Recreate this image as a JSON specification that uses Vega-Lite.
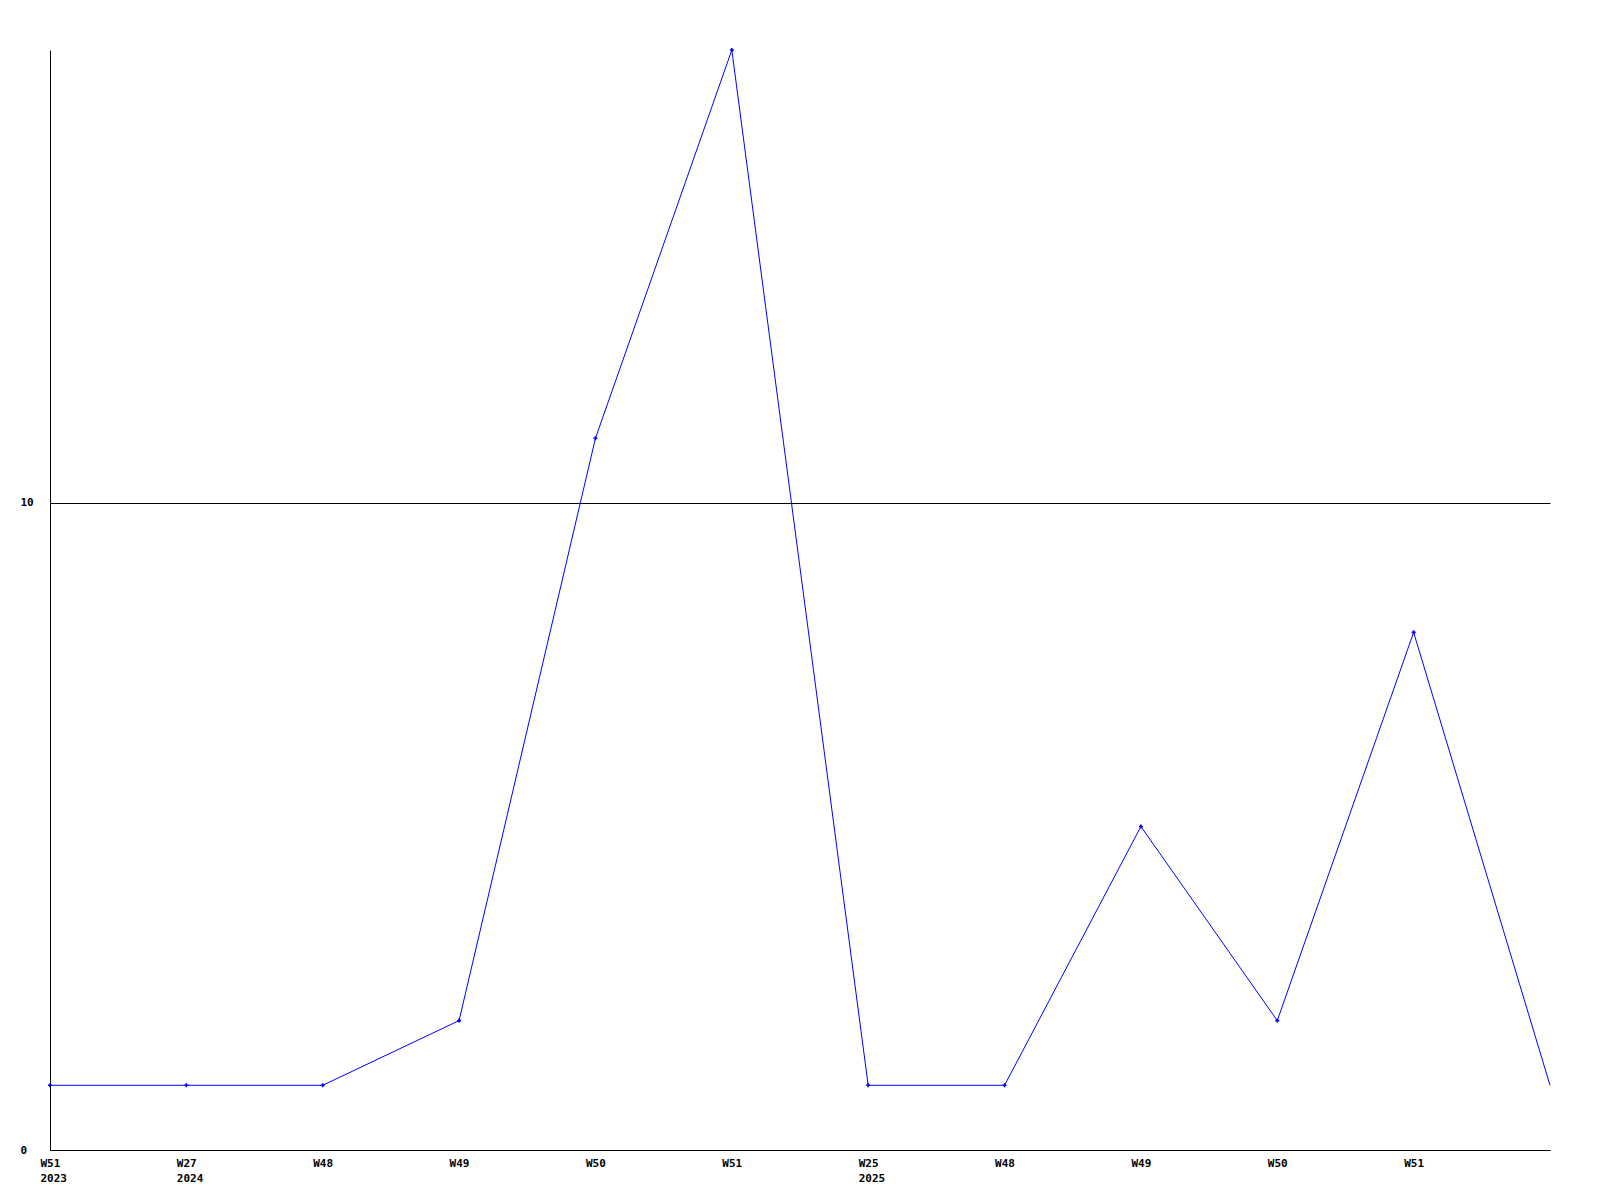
{
  "$schema": "https://vega.github.io/schema/vega-lite/v6.json",
  "width": 1500,
  "height": 1100,
  "autosize": {"type": "none"},
  "padding": {"left": 50, "top": 50, "right": 50, "bottom": 50},
  "background": "white",
  "config": {
    "view": {"stroke": null},
    "axis": {
      "labelFont": "DejaVu Sans Mono",
      "labelFontWeight": "bold",
      "labelFontSize": 11,
      "labelColor": "black",
      "domainColor": "black",
      "domainWidth": 1,
      "ticks": false,
      "title": null
    }
  },
  "data": {
    "values": [
      {"week": "2023-W51", "count": 1},
      {"week": "2024-W27", "count": 1},
      {"week": "2024-W48", "count": 1},
      {"week": "2024-W49", "count": 2},
      {"week": "2024-W50", "count": 11},
      {"week": "2024-W51", "count": 17},
      {"week": "2025-W25", "count": 1},
      {"week": "2025-W48", "count": 1},
      {"week": "2025-W49", "count": 5},
      {"week": "2025-W50", "count": 2},
      {"week": "2025-W51", "count": 8},
      {"week": "2025-W52", "count": 1}
    ]
  },
  "encoding": {
    "x": {
      "field": "week",
      "type": "ordinal",
      "sort": null,
      "scale": {"type": "point", "padding": 0},
      "axis": {
        "labelAngle": 0,
        "labelAlign": "left",
        "labelBaseline": "top",
        "labelOffset": -10,
        "labelPadding": 7,
        "labelLineHeight": 15,
        "labelOverlap": false,
        "grid": false,
        "labelExpr": "datum.value == '2025-W52' ? '' : (indexof(['2023-W51','2024-W27','2025-W25'], datum.value) >= 0 ? [slice(datum.value, 5), slice(datum.value, 0, 4)] : slice(datum.value, 5))"
      }
    },
    "y": {
      "field": "count",
      "type": "quantitative",
      "scale": {"domain": [0, 17], "nice": false, "zero": true},
      "axis": {
        "values": [0, 10],
        "grid": true,
        "gridColor": "black",
        "gridOpacity": 1,
        "gridWidth": 1,
        "labelAlign": "left",
        "labelBaseline": "middle",
        "labelPadding": 30
      }
    }
  },
  "layer": [
    {"mark": {"type": "line", "color": "#0000ff", "strokeWidth": 1}},
    {
      "transform": [{"filter": "datum.week != '2025-W52'"}],
      "mark": {"type": "point", "shape": "cross", "filled": true, "color": "#0000ff", "size": 16, "opacity": 1}
    }
  ]
}
